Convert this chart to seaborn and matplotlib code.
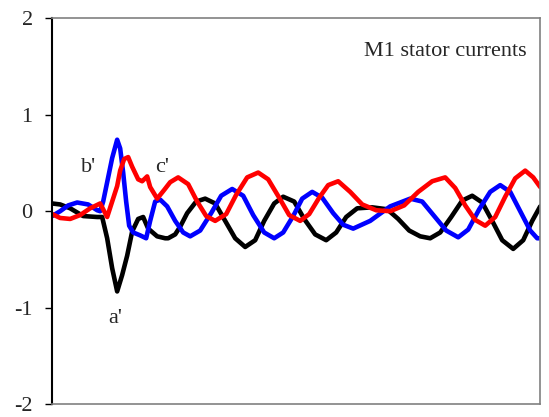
import pandas as pd
import numpy as np
import matplotlib
matplotlib.use("Agg")
import matplotlib.pyplot as plt
import seaborn as sns

# =============================================================================
#                  M1 stator currents
# =============================================================================
# time axis in ms (no labels on the original axis)
t_a = [0, 8, 18, 31, 45, 50, 55, 60, 65, 70, 75, 80, 86, 91, 96, 105, 113, 116,
       123, 128, 135, 144, 153, 163, 173, 183, 193, 203, 212, 222, 231, 242, 252,
       263, 274, 284, 294, 305, 320, 335, 346, 357, 368, 378, 388, 399, 410, 420,
       430, 440, 450, 461, 471, 480, 488]
i_a = [0.08, 0.07, 0.03, -0.05, -0.06, -0.06, -0.28, -0.59, -0.83, -0.66, -0.46,
       -0.21, -0.08, -0.06, -0.18, -0.26, -0.28, -0.28, -0.24, -0.16, -0.02, 0.1,
       0.13, 0.08, -0.1, -0.28, -0.37, -0.3, -0.1, 0.08, 0.15, 0.1, -0.08, -0.24,
       -0.3, -0.22, -0.06, 0.03, 0.04, 0.02, -0.08, -0.2, -0.26, -0.28, -0.22,
       -0.06, 0.11, 0.16, 0.09, -0.1, -0.3, -0.39, -0.3, -0.1, 0.05]

t_b = [0, 8, 16, 25, 36, 45, 48, 51, 56, 60, 65, 68, 71, 74, 77, 81, 88, 94, 98,
       103, 108, 115, 123, 131, 138, 148, 159, 169, 180, 191, 201, 212, 222, 231,
       241, 250, 260, 270, 281, 291, 301, 318, 338, 358, 370, 382, 394, 406, 416,
       427, 438, 448, 458, 468, 478, 485, 488]
i_b = [-0.05, 0.0, 0.06, 0.09, 0.07, 0.01, 0.0, 0.1, 0.35, 0.55, 0.74, 0.65, 0.4,
       0.1, -0.15, -0.22, -0.25, -0.28, -0.1, 0.1, 0.12, 0.05, -0.1, -0.22, -0.26,
       -0.2, -0.02, 0.16, 0.23, 0.16, -0.04, -0.22, -0.28, -0.22, -0.05, 0.13,
       0.2, 0.14, -0.02, -0.14, -0.18, -0.1, 0.05, 0.13, 0.1, -0.05, -0.2, -0.27,
       -0.19, 0.02, 0.2, 0.27, 0.2, 0.0, -0.2, -0.28, -0.28]

t_c = [0, 8, 18, 28, 38, 48, 55, 60, 65, 68, 72, 76, 80, 86, 90, 95, 98, 105,
       112, 118, 126, 136, 145, 154, 163, 174, 184, 195, 206, 216, 227, 237, 248,
       257, 267, 276, 286, 298, 310, 324, 338, 352, 366, 380, 393, 403, 413, 423,
       433, 443, 453, 463, 473, 481, 488]
i_c = [-0.03, -0.07, -0.08, -0.04, 0.03, 0.08, -0.06, 0.1, 0.26, 0.42, 0.54,
       0.56, 0.46, 0.33, 0.31, 0.36, 0.25, 0.13, 0.22, 0.3, 0.35, 0.28, 0.1,
       -0.05, -0.1, -0.03, 0.17, 0.35, 0.4, 0.33, 0.14, -0.04, -0.1, -0.03, 0.14,
       0.27, 0.31, 0.2, 0.07, 0.01, 0.0, 0.06, 0.2, 0.31, 0.35, 0.24, 0.06, -0.09,
       -0.15, -0.06, 0.15, 0.34, 0.42, 0.35, 0.25]

phases = ["a'", "b'", "c'"]

df = pd.concat([
    pd.DataFrame({"t": t_a, "i": i_a, "phase": phases[0]}),
    pd.DataFrame({"t": t_b, "i": i_b, "phase": phases[1]}),
    pd.DataFrame({"t": t_c, "i": i_c, "phase": phases[2]}),
])

sns.set_style("white")
plt.rcParams['font.family'] = ['Liberation Serif', 'DejaVu Serif']
plt.rcParams['axes.unicode_minus'] = False

fig = plt.figure(figsize=(5.49, 4.17), dpi=100)
ax = fig.add_axes([0.095, 0.03, 0.889, 0.927])

sns.lineplot(data=df, x="t", y="i", hue="phase", hue_order=phases,
             palette={"a'": "black", "b'": "blue", "c'": "red"},
             estimator=None, sort=False, lw=3.3, legend=False, ax=ax)

ax.set_xlim(0, 488)
ax.set_ylim(-2, 2)
ax.set_yticks([-2, -1, 0, 1, 2])
ax.set_xticks([])
ax.set_xlabel("")
ax.set_ylabel("")
ax.tick_params(axis="y", direction="out", length=5, width=1, left=True,
               labelsize=16, pad=9, color="black")

for side in ["top", "right", "bottom"]:
    ax.spines[side].set_color("#808080")
    ax.spines[side].set_linewidth(1.2)
ax.spines["left"].set_color("black")
ax.spines["left"].set_linewidth(1.5)

# labels on the curves
ax.text(36, 0.45, "b'", fontsize=16, ha="center", va="center")
ax.text(110, 0.45, "c'", fontsize=16, ha="center", va="center")
ax.text(63, -1.11, "a'", fontsize=16, ha="center", va="center")
ax.text(0.973, 0.913, "M1 stator currents", fontsize=16, ha="right",
        va="center", transform=ax.transAxes)

fig.savefig("out.png", dpi=100)
